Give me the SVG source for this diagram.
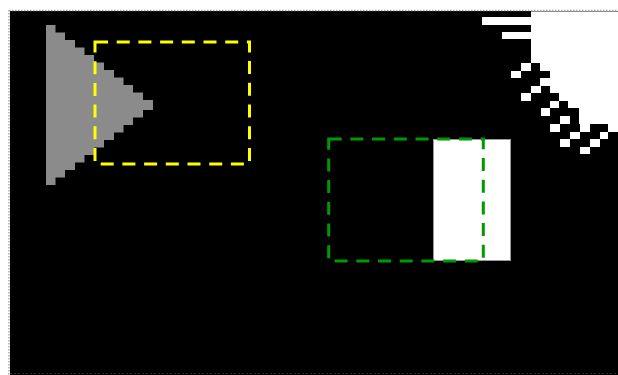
<svg xmlns="http://www.w3.org/2000/svg" width="618" height="375" viewBox="0 0 618 375">
  <style>
    .wt { fill: #ffffff; }
    .box { fill: none; stroke-width: 3; stroke-dasharray: 13 8.7; }
    .dot { fill: none; stroke: #a8a8a8; stroke-width: 1.5; stroke-dasharray: 1.5 1.5; }
  </style>
  <rect x="0" y="0" width="618" height="375" fill="#ffffff"/>
  <g id="background">
    <rect x="10" y="11" width="608" height="364" fill="#000000"/>
    <line class="dot" x1="9" y1="10.5" x2="618" y2="10.5"/>
    <line class="dot" x1="9" y1="10" x2="9" y2="375"/>
    <line x1="10" y1="373.5" x2="618" y2="373.5" stroke="#2a2a2a" stroke-width="1" stroke-dasharray="2 2"/>
  </g>
  <g id="corner-shape">
    <polygon class="wt" points="531,11.5 618,11.5 618,124 579,124 579,108 568,108 568,101 559,101 559,93 550,93 550,86 540,86 540,78 550,78 550,71 540,71 540,63 531,63"/>
    <rect class="wt" x="482" y="17" width="49" height="8"/>
    <rect class="wt" x="502" y="32" width="29" height="7"/>
    <rect class="wt" x="521" y="63" width="10" height="8"/>
    <rect class="wt" x="511" y="71" width="10" height="7"/>
    <rect class="wt" x="531" y="86" width="10" height="7"/>
    <rect class="wt" x="521" y="93" width="10" height="8"/>
    <rect class="wt" x="550" y="101" width="9" height="7"/>
    <rect class="wt" x="541" y="108" width="9" height="8"/>
    <rect class="wt" x="560" y="116" width="10" height="8"/>
    <rect class="wt" x="550" y="124" width="10" height="8"/>
    <rect class="wt" x="580" y="124" width="10" height="8"/>
    <rect class="wt" x="608" y="124" width="10" height="8"/>
    <rect class="wt" x="570" y="132" width="10" height="7"/>
    <rect class="wt" x="600" y="132" width="8" height="7"/>
    <rect class="wt" x="560" y="139" width="10" height="8"/>
    <rect class="wt" x="590" y="139" width="10" height="8"/>
    <rect class="wt" x="580" y="147" width="10" height="7"/>
  </g>
  <g id="triangle">
    <polygon fill="#8b8b8b" points="46,25 55.5,25 55.5,32.5 65,32.5 65,40 75,40 75,47.5 84.5,47.5 84.5,55 94,55 94,62.5 104,62.5 104,70 114,70 114,77.5 123.5,77.5 123.5,85 133,85 133,92.5 143,92.5 143,100 153,100 153,110 143,110 143,117.5 133,117.5 133,125 123.5,125 123.5,132.5 114,132.5 114,140 104,140 104,147.5 94,147.5 94,155 84.5,155 84.5,162.5 75,162.5 75,170 65,170 65,177.5 55.5,177.5 55.5,185 46,185"/>
  </g>
  <g id="white-rect">
    <rect x="433.5" y="139.5" width="77" height="121" fill="#ffffff" stroke="#9a9a9a" stroke-width="1"/>
  </g>
  <g id="yellow-box">
    <rect class="box" x="95" y="42" width="154.5" height="122" stroke="#ffff00"/>
  </g>
  <g id="green-box">
    <rect class="box" x="328.7" y="139" width="154.6" height="122" stroke="#009a00"/>
  </g>
  <g id="connectors"/>
</svg>
